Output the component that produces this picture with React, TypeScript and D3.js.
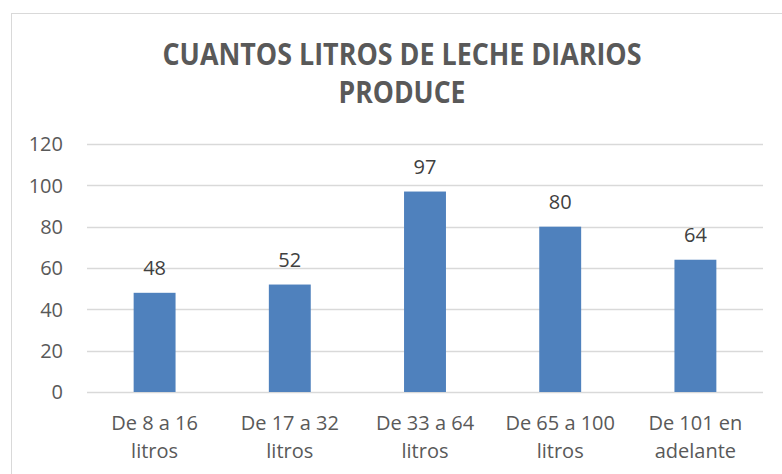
import React from "react";
import * as d3 from "d3";

const categories = [
  ["De 8 a 16", "litros"],
  ["De 17 a 32", "litros"],
  ["De 33 a 64", "litros"],
  ["De 65 a 100", "litros"],
  ["De 101 en", "adelante"],
];
const values = [48, 52, 97, 80, 64];
const yTicks = [0, 20, 40, 60, 80, 100, 120];
const titleLines = ["CUANTOS LITROS DE LECHE DIARIOS", "PRODUCE"];
const titleWidths = [479, 127];

const W = 782;
const H = 474;
const plot = { left: 87, right: 763, top: 144, bottom: 392 };

export default function App() {
  const x = d3
    .scaleBand<number>()
    .domain(d3.range(values.length))
    .range([plot.left, plot.right])
    .paddingInner(0.69)
    .paddingOuter(0.345);
  const y = d3.scaleLinear().domain([0, 120]).range([plot.bottom, plot.top]);
  const font = "'Open Sans', sans-serif";
  return (
    <svg
      width={W}
      height={H}
      style={{ position: "absolute", left: 0, top: 0, background: "#fff" }}
    >
      <rect x={11.5} y={13.5} width={W + 20} height={H + 20} fill="#fff" stroke="#D9D9D9" strokeWidth={1} />
      {titleLines.map((t, i) => (
        <text
          key={i}
          x={402}
          y={65 + i * 38}
          textAnchor="middle"
          fontFamily={font}
          fontWeight={700}
          fontSize={30}
          textLength={titleWidths[i]}
          lengthAdjust="spacingAndGlyphs"
          fill="#595959"
        >
          {t}
        </text>
      ))}
      {yTicks.map((t) => (
        <g key={t}>
          <line x1={plot.left} x2={plot.right} y1={Math.round(y(t)) + 0.5} y2={Math.round(y(t)) + 0.5} stroke="#D9D9D9" strokeWidth={1.5} />
          <text
            x={63}
            y={y(t)}
            dy="0.36em"
            textAnchor="end"
            fontFamily={font}
            fontSize={20}
            fill="#595959"
          >
            {t}
          </text>
        </g>
      ))}
      {values.map((v, i) => (
        <g key={i}>
          <rect
            x={x(i)}
            y={y(v)}
            width={x.bandwidth()}
            height={y(0) - y(v)}
            fill="#4F81BD"
          />
          <text
            x={(x(i) as number) + x.bandwidth() / 2}
            y={y(v) - 18}
            textAnchor="middle"
            fontFamily={font}
            fontSize={20}
            fill="#404040"
          >
            {v}
          </text>
          {categories[i].map((l, j) => (
            <text
              key={j}
              x={(x(i) as number) + x.bandwidth() / 2}
              y={430 + j * 28}
              textAnchor="middle"
              fontFamily={font}
              fontSize={20}
              fill="#595959"
            >
              {l}
            </text>
          ))}
        </g>
      ))}
    </svg>
  );
}
